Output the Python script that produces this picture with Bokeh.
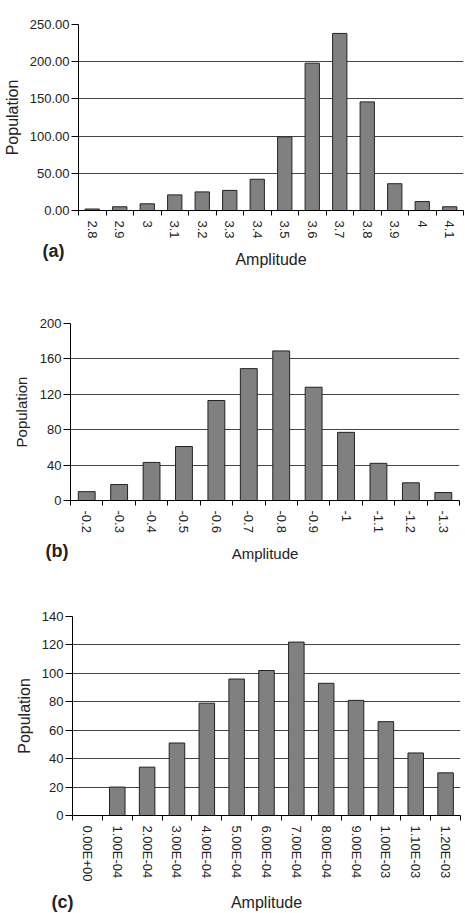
import math
from bokeh.plotting import figure
from bokeh.models import Range1d, FixedTicker, Title
from bokeh.embed import file_html
from bokeh.resources import INLINE

# ---------------- data ----------------
a_labels = ["2.8", "2.9", "3", "3.1", "3.2", "3.3", "3.4", "3.5", "3.6", "3.7", "3.8", "3.9", "4", "4.1"]
a_values = [2, 5, 9, 21, 25, 27, 42, 99, 198, 238, 146, 36, 12, 5]
a_yticks = [0, 50, 100, 150, 200, 250]
a_ytick_labels = ["0.00", "50.00", "100.00", "150.00", "200.00", "250.00"]

b_labels = ["-0.2", "-0.3", "-0.4", "-0.5", "-0.6", "-0.7", "-0.8", "-0.9", "-1", "-1.1", "-1.2", "-1.3"]
b_values = [10, 18, 43, 61, 113, 149, 169, 128, 77, 42, 20, 9]
b_yticks = [0, 40, 80, 120, 160, 200]
b_ytick_labels = ["0", "40", "80", "120", "160", "200"]

c_labels = ["0.00E+00", "1.00E-04", "2.00E-04", "3.00E-04", "4.00E-04", "5.00E-04", "6.00E-04",
            "7.00E-04", "8.00E-04", "9.00E-04", "1.00E-03", "1.10E-03", "1.20E-03"]
c_values = [0, 20, 34, 51, 79, 96, 102, 122, 93, 81, 66, 44, 30]
c_yticks = [0, 20, 40, 60, 80, 100, 120, 140]
c_ytick_labels = ["0", "20", "40", "60", "80", "100", "120", "140"]

FONT = "Liberation Sans"


def panel(labels, values, yticks, ylabels, tag, height, left, right, top, bottom,
          tag_offset, tag_standoff, label_size="16px", ylabel_standoff=10):
    n = len(labels)
    xs = list(range(n))
    p = figure(width=465, height=height, output_backend="svg", toolbar_location=None,
               x_range=Range1d(-0.5, n - 0.5), y_range=Range1d(0, yticks[-1]),
               min_border_left=left, min_border_right=right,
               min_border_top=top, min_border_bottom=bottom)
    p.outline_line_color = None
    p.background_fill_color = "white"
    p.border_fill_color = "white"
    p.xgrid.grid_line_color = None
    p.ygrid.grid_line_color = "#444444"
    p.ygrid.grid_line_width = 1
    p.ygrid.ticker = FixedTicker(ticks=yticks)

    p.vbar(x=xs, top=values, width=0.52, bottom=0, fill_color="#808080",
           line_color="#222222", line_width=1)

    xa = p.xaxis[0]
    xa.ticker = FixedTicker(ticks=xs, minor_ticks=[i - 0.5 for i in range(n + 1)])
    xa.major_label_overrides = {i: lab for i, lab in enumerate(labels)}
    xa.major_label_orientation = -math.pi / 2
    xa.major_tick_out = 0
    xa.major_tick_in = 0
    xa.minor_tick_out = 5
    xa.minor_tick_in = 0
    xa.minor_tick_line_color = "black"
    xa.axis_line_color = "black"
    xa.major_label_text_font = FONT
    xa.major_label_text_font_size = "13px"
    xa.major_label_text_color = "#222222"
    xa.major_label_standoff = 5
    xa.axis_label = "Amplitude"
    xa.axis_label_text_font = FONT
    xa.axis_label_text_font_size = label_size
    xa.axis_label_text_font_style = "normal"
    xa.axis_label_text_color = "#222222"
    xa.axis_label_standoff = 9

    ya = p.yaxis[0]
    ya.ticker = FixedTicker(ticks=yticks)
    ya.major_label_overrides = {t: s for t, s in zip(yticks, ylabels)}
    ya.major_tick_out = 7
    ya.major_tick_in = 0
    ya.minor_tick_out = 0
    ya.minor_tick_in = 0
    ya.axis_line_color = "black"
    ya.major_tick_line_color = "black"
    ya.major_label_text_font = FONT
    ya.major_label_text_font_size = "13px"
    ya.major_label_text_color = "#222222"
    ya.major_label_standoff = 2
    ya.axis_label = "Population"
    ya.axis_label_text_font = FONT
    ya.axis_label_text_font_size = label_size
    ya.axis_label_text_font_style = "normal"
    ya.axis_label_text_color = "#222222"
    ya.axis_label_standoff = ylabel_standoff

    p.add_layout(Title(text=tag, text_font=FONT, text_font_size="18px", text_font_style="bold",
                       text_color="#222222", align="left", vertical_align="top",
                       offset=tag_offset, standoff=tag_standoff), "below")
    return p


p1 = panel(a_labels, a_values, a_yticks, a_ytick_labels, "(a)", 272, 76, 2, 24, 62, -36, -60,
           ylabel_standoff=6)
p2 = panel(b_labels, b_values, b_yticks, b_ytick_labels, "(b)", 293, 70, 6, 51, 65, -25, -48,
           label_size="15px", ylabel_standoff=7)
p3 = panel(c_labels, c_values, c_yticks, c_ytick_labels, "(c)", 348, 72, 5, 51, 97, -21, -44,
           ylabel_standoff=6)

open("out.html", "w").write(file_html([p1, p2, p3], INLINE))
